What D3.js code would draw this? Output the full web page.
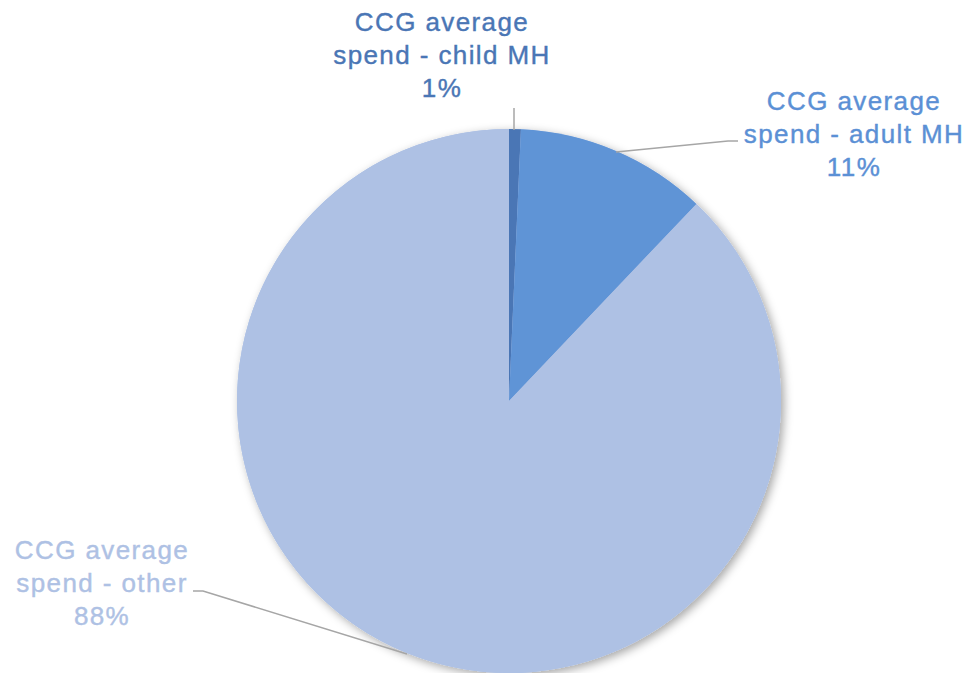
<!DOCTYPE html>
<html><head><meta charset="utf-8">
<script src="https://cdn.jsdelivr.net/npm/d3@7"></script>
<style>body{margin:0;background:#fff;} svg{display:block;}</style>
</head><body>
<svg id="chart" width="967" height="673"></svg>
<script>
const categories = ["CCG average spend - child MH", "CCG average spend - adult MH", "CCG average spend - other"];
const values = [0.7, 11.4, 87.9];
const pctLabels = ["1%", "11%", "88%"];
const colors = ["#4a76b5", "#5f94d6", "#aec1e4"];
const textColors = ["#4a76b5", "#5b90d5", "#aec1e4"];

const svg = d3.select("#chart");
const W = 967, H = 673;
const cx = 509, cy = 401, R = 272;

const defs = svg.append("defs");
const f = defs.append("filter").attr("id","sh").attr("x","-20%").attr("y","-20%").attr("width","140%").attr("height","140%");
f.append("feDropShadow").attr("dx",3).attr("dy",3).attr("stdDeviation",5).attr("flood-color","#000").attr("flood-opacity",0.35);

const pie = d3.pie().sort(null).value(d => d)(values);
const arc = d3.arc().innerRadius(0).outerRadius(R);
const g = svg.append("g").attr("transform", `translate(${cx},${cy})`);
g.append("circle").attr("r", R).attr("fill", "#aec1e4").attr("filter","url(#sh)");
g.selectAll("path.slice").data(pie).join("path").attr("class","slice")
  .attr("d", arc).attr("fill", (d,i) => colors[i]);

const labelPos = [
  {x: 442, y: 22},
  {x: 854, y: 101},
  {x: 102, y: 550}
];
const lineH = 33;
const splitLines = [
  ["CCG average", "spend - child MH"],
  ["CCG average", "spend - adult MH"],
  ["CCG average", "spend - other"]
];
categories.forEach((c, i) => {
  const t = svg.append("text").attr("x", labelPos[i].x).attr("y", labelPos[i].y)
    .attr("text-anchor", "middle").attr("fill", textColors[i])
    .attr("stroke", textColors[i]).attr("stroke-width", 0.4)
    .style("font-family", "'Liberation Sans', Arial, sans-serif").style("font-size", "26px")
    .style("letter-spacing", "1.4px");
  const lines = splitLines[i].concat([pctLabels[i]]);
  lines.forEach((l, j) => {
    t.append("tspan").attr("x", labelPos[i].x).attr("y", labelPos[i].y + j*lineH).attr("dy","0.35em").text(l);
  });
});

const leaders = [
  [[514,108],[514,130]],
  [[616,152],[728,141],[738,141]],
  [[193,591],[203,591],[407,654]]
];
leaders.forEach(pts => {
  svg.append("path").attr("d", d3.line()(pts)).attr("fill","none").attr("stroke","#a6a6a6").attr("stroke-width",1.5);
});
</script>
</body></html>
